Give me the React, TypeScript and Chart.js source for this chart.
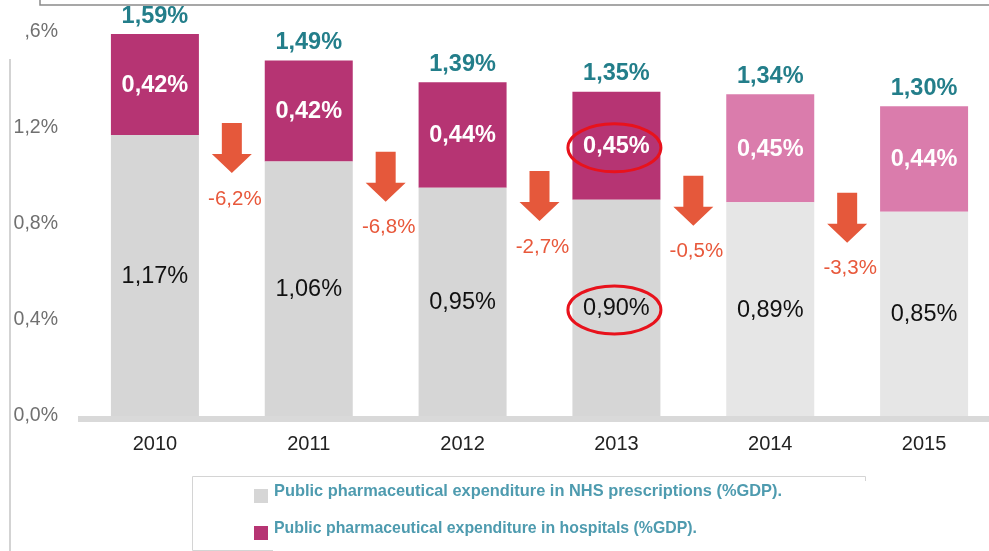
import React, { useEffect, useRef } from "react";
import { Chart, registerables } from "chart.js";

Chart.register(...registerables);

const years = ["2010", "2011", "2012", "2013", "2014", "2015"];
const nhsValues = [1.17, 1.06, 0.95, 0.9, 0.89, 0.85];
const hospitalValues = [0.42, 0.42, 0.44, 0.45, 0.45, 0.44];
const totals = [1.59, 1.49, 1.39, 1.35, 1.34, 1.3];
const changeLabels = ["-6,2%", "-6,8%", "-2,7%", "-0,5%", "-3,3%"];
const arrowTops = [1.22, 1.1, 1.02, 1.0, 0.93];
const yTickLabels = ["0,0%", "0,4%", "0,8%", "1,2%", ",6%"];
const highlightIndex = 3;
const seriesLabels = [
  "Public pharmaceutical expenditure in NHS prescriptions (%GDP).",
  "Public pharmaceutical expenditure in hospitals (%GDP).",
];

const FONT = '"Liberation Sans", Arial, Helvetica, sans-serif';
const nhsColors = ["#D6D6D6", "#D6D6D6", "#D6D6D6", "#D6D6D6", "#E6E6E6", "#E6E6E6"];
const hospColors = ["#B63473", "#B63473", "#B63473", "#B63473", "#DA7CAC", "#DA7CAC"];

const VIEW_W = 989;
const VIEW_H = 551;
const CANVAS_W = 1001;

const fmt = (v: number) => v.toFixed(2).replace(".", ",") + "%";

const overlayPlugin = {
  id: "overlay",
  beforeDraw(chart: any) {
    const ctx = chart.ctx;
    ctx.save();
    // top frame
    ctx.strokeStyle = "#8a8a8a";
    ctx.lineWidth = 1.5;
    ctx.beginPath();
    ctx.moveTo(40, 0);
    ctx.lineTo(40, 5);
    ctx.lineTo(VIEW_W, 5);
    ctx.stroke();
    // left vertical line
    ctx.strokeStyle = "#c4c4c4";
    ctx.lineWidth = 1.5;
    ctx.beginPath();
    ctx.moveTo(10, 59);
    ctx.lineTo(10, VIEW_H);
    ctx.stroke();
    // legend box
    ctx.strokeStyle = "#d4d4d4";
    ctx.lineWidth = 1;
    ctx.beginPath();
    ctx.moveTo(865.5, 481);
    ctx.lineTo(865.5, 476.5);
    ctx.lineTo(192.5, 476.5);
    ctx.lineTo(192.5, 550.5);
    ctx.lineTo(273, 550.5);
    ctx.stroke();
    // legend items
    const legColors = [nhsColors[0], hospColors[0]];
    const legY = [495, 532];
    ctx.font = "bold 16.5px " + FONT;
    ctx.textBaseline = "middle";
    ctx.textAlign = "left";
    const widths = [508, 423];
    for (let i = 0; i < 2; i++) {
      ctx.fillStyle = legColors[i];
      ctx.fillRect(254, legY[i] - 6, 14, 14);
      ctx.fillStyle = "#4E9BAF";
      ctx.fillText(seriesLabels[i], 274, legY[i] - 4, widths[i]);
    }
    ctx.restore();
  },
  beforeDatasetsDraw(chart: any) {
    const ctx = chart.ctx;
    const { left } = chart.chartArea;
    const base = chart.scales.y.getPixelForValue(0);
    ctx.save();
    ctx.fillStyle = "#D9D9D9";
    ctx.fillRect(left, base, VIEW_W - left, 6);
    ctx.restore();
  },
  afterDatasetsDraw(chart: any) {
    const ctx = chart.ctx;
    const yScale = chart.scales.y;
    ctx.save();
    ctx.textAlign = "center";
    ctx.textBaseline = "middle";
    for (let d = 0; d < 2; d++) {
      const meta = chart.getDatasetMeta(d);
      const values = d === 0 ? nhsValues : hospitalValues;
      meta.data.forEach((el: any, i: number) => {
        const cy = (el.y + el.base) / 2;
        ctx.font = (d === 0 ? "" : "bold ") + "23.5px " + FONT;
        ctx.fillStyle = d === 0 ? "#111111" : "#ffffff";
        ctx.fillText(fmt(values[i]), el.x, cy + 1);
        if (i === highlightIndex) {
          ctx.strokeStyle = "#E8121C";
          ctx.lineWidth = 3;
          ctx.beginPath();
          ctx.ellipse(el.x - 2, cy + 2, 46.5, 24, 0, 0, Math.PI * 2);
          ctx.stroke();
        }
      });
    }
    // totals
    const topMeta = chart.getDatasetMeta(1);
    ctx.font = "bold 23.5px " + FONT;
    ctx.fillStyle = "#237E8A";
    topMeta.data.forEach((el: any, i: number) => {
      ctx.fillText(fmt(totals[i]), el.x, el.y - 18);
    });
    // arrows
    for (let i = 0; i < changeLabels.length; i++) {
      const x = (topMeta.data[i].x + topMeta.data[i + 1].x) / 2;
      const top = yScale.getPixelForValue(arrowTops[i]);
      ctx.fillStyle = "#E5583B";
      ctx.beginPath();
      ctx.moveTo(x - 10, top);
      ctx.lineTo(x + 10, top);
      ctx.lineTo(x + 10, top + 31);
      ctx.lineTo(x + 20, top + 31);
      ctx.lineTo(x, top + 50);
      ctx.lineTo(x - 20, top + 31);
      ctx.lineTo(x - 10, top + 31);
      ctx.closePath();
      ctx.fill();
      ctx.font = "20.5px " + FONT;
      ctx.fillStyle = "#E8583B";
      ctx.fillText(changeLabels[i], x + 3, top + 76);
    }
    ctx.restore();
  },
};

export default function App() {
  const ref = useRef<HTMLCanvasElement>(null);
  useEffect(() => {
    document.body.style.margin = "0";
    const chart = new Chart(ref.current as HTMLCanvasElement, {
      type: "bar",
      data: {
        labels: years,
        datasets: [
          {
            label: seriesLabels[0],
            data: nhsValues,
            backgroundColor: nhsColors,
            borderWidth: 0,
            barPercentage: 0.572,
            categoryPercentage: 1,
          },
          {
            label: seriesLabels[1],
            data: hospitalValues,
            backgroundColor: hospColors,
            borderWidth: 0,
            barPercentage: 0.572,
            categoryPercentage: 1,
          },
        ],
      },
      options: {
        responsive: false,
        animation: false,
        layout: { padding: { top: 30.5, left: 0, right: 0, bottom: 0 } },
        plugins: { legend: { display: false }, tooltip: { enabled: false } },
        scales: {
          x: {
            stacked: true,
            grid: { display: false, drawTicks: false },
            border: { display: false },
            ticks: { font: { family: FONT, size: 20 }, color: "#222222", padding: 16 },
            afterFit: (s: any) => {
              s.height = 135;
            },
          },
          y: {
            stacked: true,
            min: 0,
            max: 1.6,
            grid: { display: false, drawTicks: false },
            border: { display: false },
            ticks: {
              stepSize: 0.4,
              font: { family: FONT, size: 19.5 },
              color: "#707070",
              padding: 20,
              callback: (_v: any, i: number) => yTickLabels[i],
            },
            afterFit: (s: any) => {
              s.width = 78;
            },
          },
        },
      },
      plugins: [overlayPlugin],
    });
    return () => chart.destroy();
  }, []);
  return (
    <div style={{ width: VIEW_W, height: VIEW_H, overflow: "hidden", position: "relative" }}>
      <canvas ref={ref} width={CANVAS_W} height={VIEW_H} style={{ display: "block" }} />
    </div>
  );
}
